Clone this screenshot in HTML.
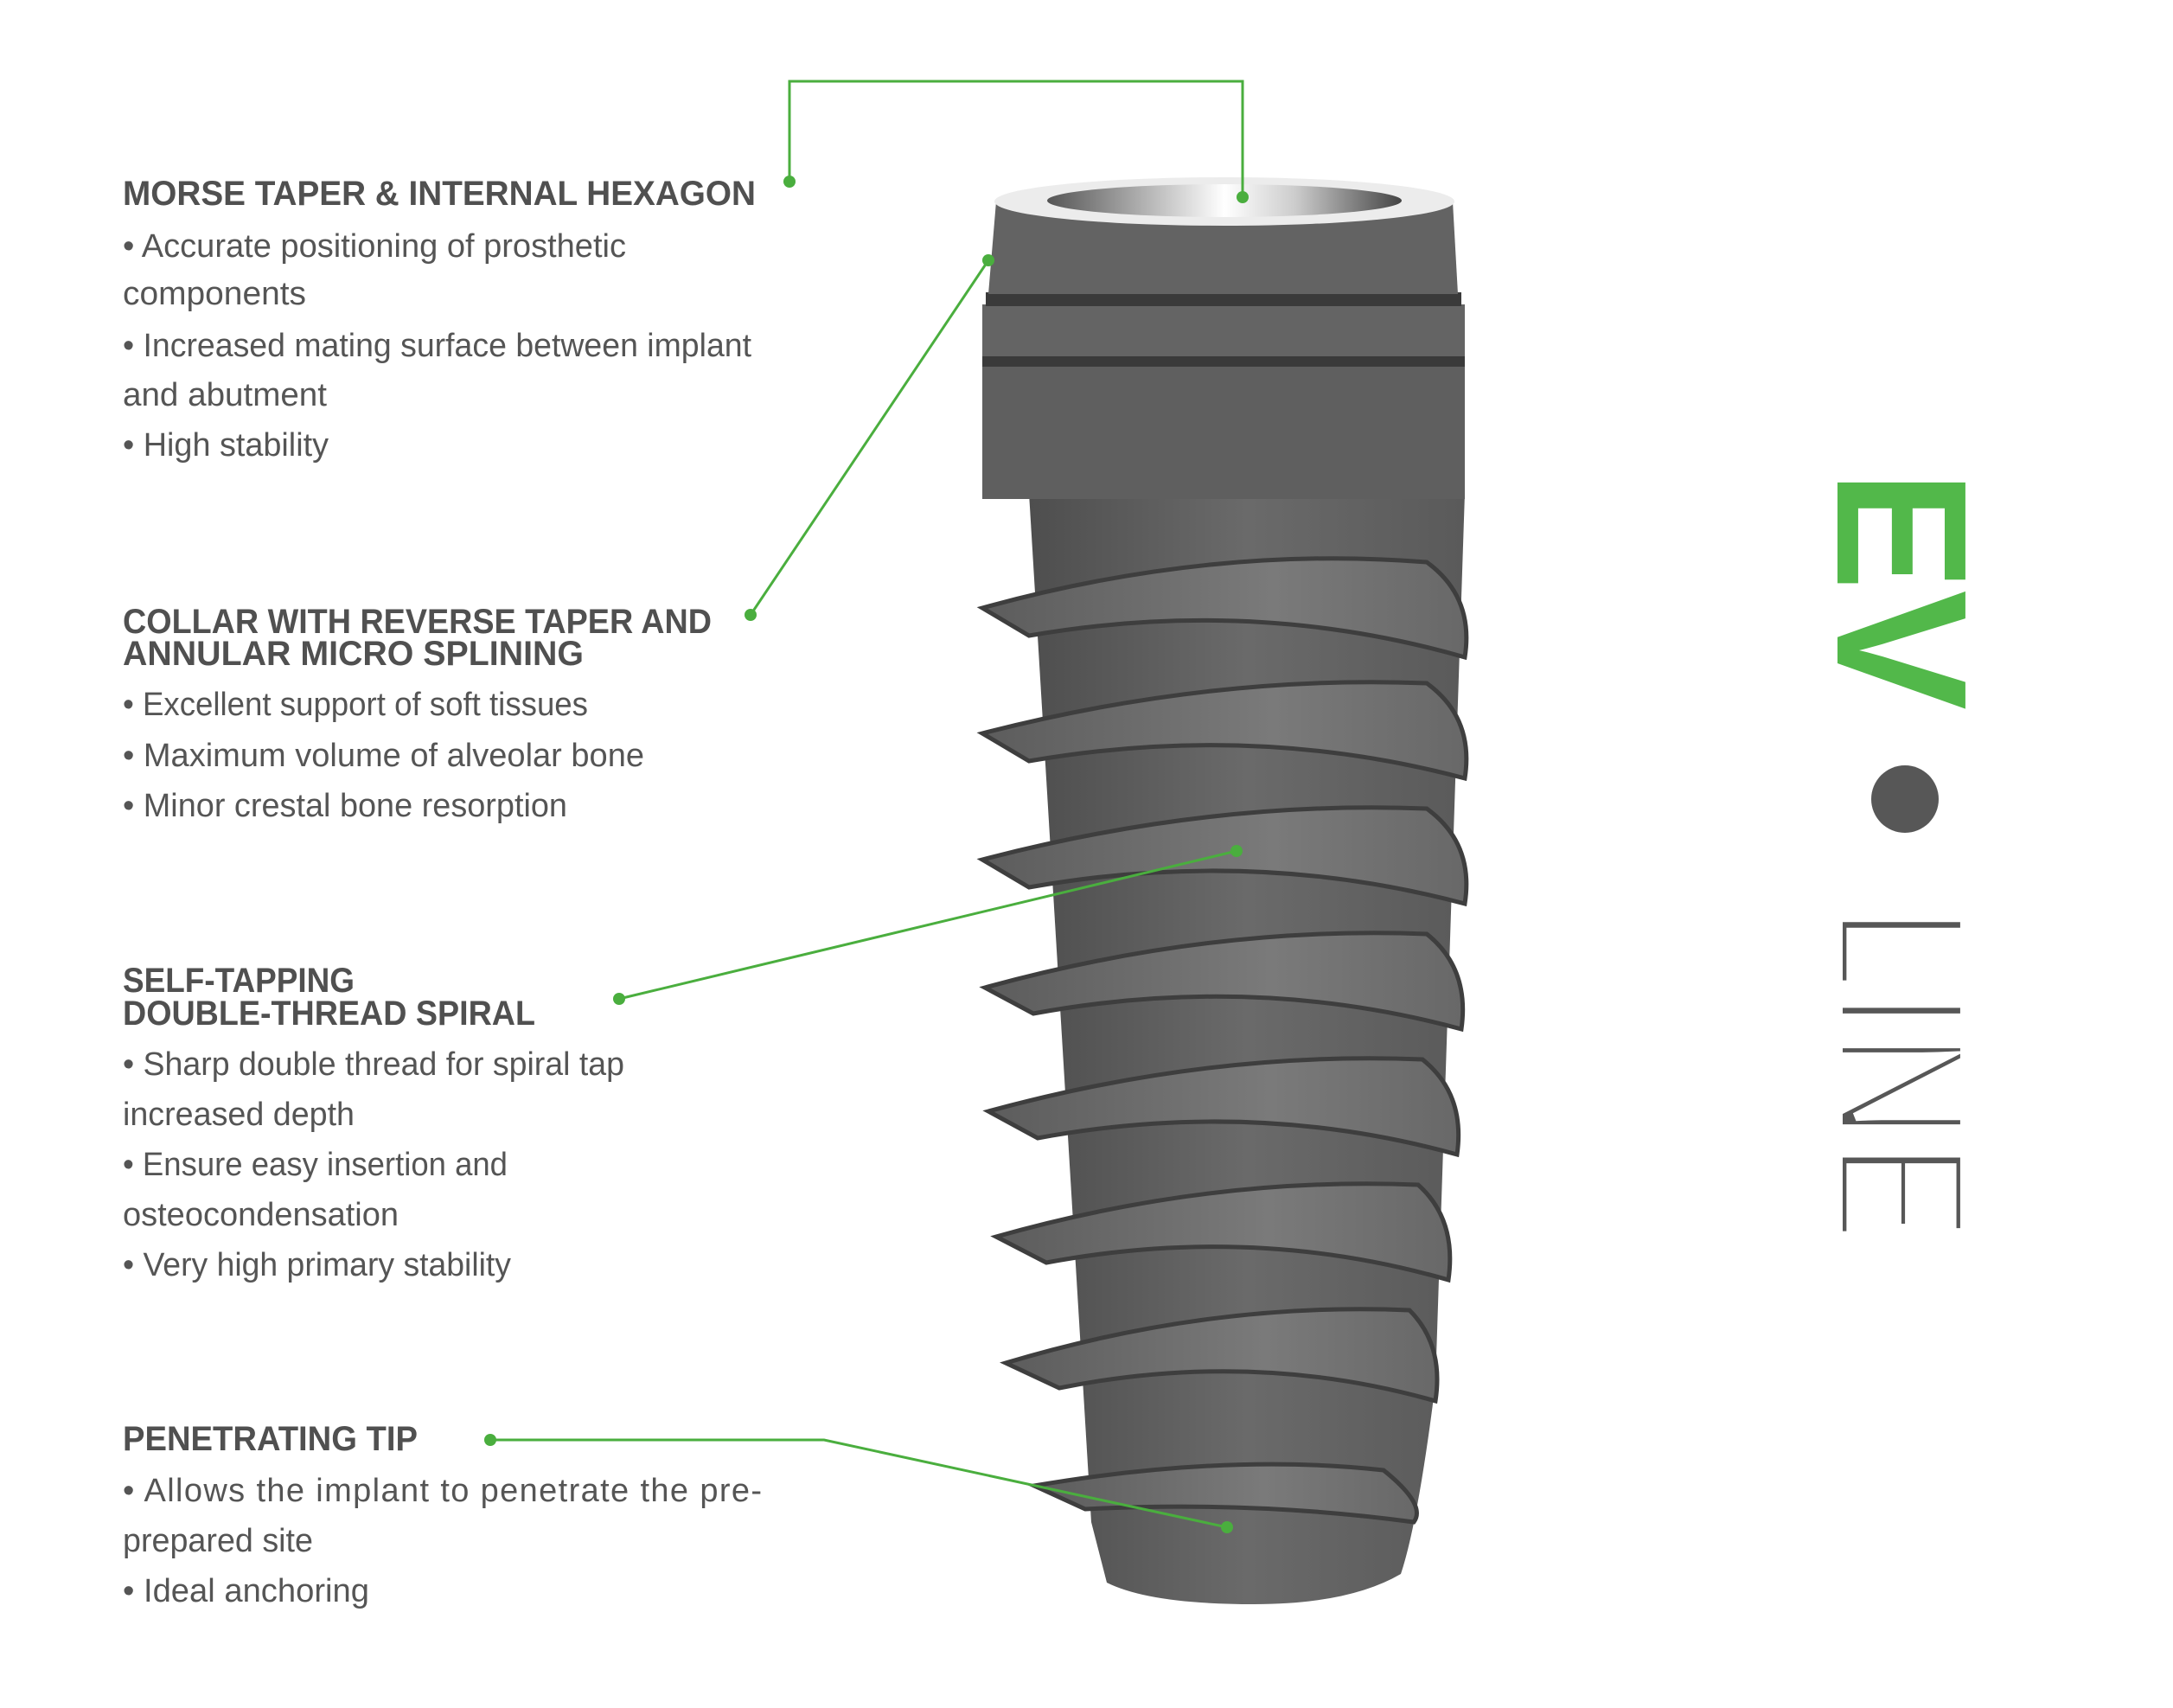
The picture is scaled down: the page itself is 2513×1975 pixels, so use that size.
<!DOCTYPE html>
<html><head><meta charset="utf-8"><style>html,body{margin:0;padding:0;background:#fff}svg{display:block}</style></head>
<body>
<svg width="2513" height="1975" viewBox="0 0 2513 1975" xmlns="http://www.w3.org/2000/svg">
<defs>
<linearGradient id="bore" x1="0" x2="1" y1="0" y2="0">
<stop offset="0" stop-color="#555"/><stop offset="0.3" stop-color="#bbb"/><stop offset="0.5" stop-color="#fff"/><stop offset="0.7" stop-color="#ccc"/><stop offset="1" stop-color="#444"/></linearGradient>
<linearGradient id="body" x1="0" x2="1" y1="0" y2="0">
<stop offset="0" stop-color="#4e4e4e"/><stop offset="0.5" stop-color="#6a6a6a"/><stop offset="1" stop-color="#5a5a5a"/></linearGradient>
<linearGradient id="thr" x1="0" x2="1" y1="0" y2="0">
<stop offset="0" stop-color="#5c5c5c"/><stop offset="0.6" stop-color="#7a7a7a"/><stop offset="1" stop-color="#686868"/></linearGradient>
</defs>

<!-- Implant body -->
<path d="M1190,570 L1694,570 L1660,1600 Q1640,1760 1620,1820 Q1560,1855 1450,1855 Q1330,1855 1280,1830 L1262,1760 Z" fill="url(#body)"/>
<!-- threads -->
<g fill="url(#thr)" stroke="#3e3e3e" stroke-width="5">
<path d="M1136,703 Q1400,630 1650,650 Q1705,690 1694,760 Q1450,690 1190,735 Z"/>
<path d="M1136,848 Q1400,780 1650,790 Q1705,830 1694,900 Q1450,835 1190,880 Z"/>
<path d="M1136,994 Q1400,925 1650,935 Q1705,975 1694,1045 Q1450,980 1190,1026 Z"/>
<path d="M1139,1142 Q1400,1070 1650,1080 Q1700,1120 1690,1190 Q1450,1125 1195,1172 Z"/>
<path d="M1143,1285 Q1400,1215 1645,1225 Q1695,1265 1685,1335 Q1450,1270 1200,1316 Z"/>
<path d="M1152,1430 Q1400,1360 1640,1370 Q1685,1410 1675,1480 Q1450,1415 1210,1460 Z"/>
<path d="M1163,1576 Q1400,1505 1630,1515 Q1670,1555 1660,1620 Q1450,1560 1225,1605 Z"/>
<path d="M1196,1718 Q1420,1680 1600,1700 Q1650,1740 1635,1760 Q1450,1735 1255,1745 Z"/>
</g>
<!-- collar -->
<rect x="1136" y="417" width="558" height="160" fill="#5f5f5f"/>
<rect x="1136" y="410" width="558" height="14" fill="#3a3a3a"/>
<rect x="1136" y="352" width="558" height="60" fill="#646464"/>
<rect x="1140" y="338" width="550" height="16" fill="#3a3a3a"/>
<path d="M1152,233 L1680,233 L1686,340 L1143,340 Z" fill="#636363"/>
<ellipse cx="1416" cy="233" rx="266" ry="28" fill="#ececec"/>
<ellipse cx="1416" cy="232" rx="205" ry="19" fill="url(#bore)"/>

<!-- connectors -->
<g stroke="#4aae3e" stroke-width="3" fill="none">
<polyline points="913,210 913,94 1437,94 1437,228"/>
<line x1="868" y1="711" x2="1143" y2="301"/>
<line x1="716" y1="1155" x2="1430" y2="984"/>
<polyline points="567,1665 953,1665 1419,1766"/>
</g>
<g fill="#4aae3e">
<circle cx="913" cy="210" r="7"/><circle cx="1437" cy="228" r="7"/>
<circle cx="868" cy="711" r="7"/><circle cx="1143" cy="301" r="7"/>
<circle cx="716" cy="1155" r="7"/><circle cx="1430" cy="984" r="7"/>
<circle cx="567" cy="1665" r="7"/><circle cx="1419" cy="1766" r="7"/>
</g>

<!-- text -->
<g font-family="Liberation Sans, sans-serif" fill="#505050">
<g font-weight="bold" font-size="40" lengthAdjust="spacingAndGlyphs">
<text x="142" y="237" textLength="732" lengthAdjust="spacingAndGlyphs">MORSE TAPER &amp; INTERNAL HEXAGON</text>
<text x="142" y="732" textLength="681" lengthAdjust="spacingAndGlyphs">COLLAR WITH REVERSE TAPER AND</text>
<text x="142" y="769" textLength="533" lengthAdjust="spacingAndGlyphs">ANNULAR MICRO SPLINING</text>
<text x="142" y="1147" textLength="268" lengthAdjust="spacingAndGlyphs">SELF-TAPPING</text>
<text x="142" y="1185" textLength="477" lengthAdjust="spacingAndGlyphs">DOUBLE-THREAD SPIRAL</text>
<text x="142" y="1677" textLength="341" lengthAdjust="spacingAndGlyphs">PENETRATING TIP</text>
</g>
<g font-size="38" fill="#555">
<text x="142" y="297" textLength="582" lengthAdjust="spacingAndGlyphs">• Accurate positioning of prosthetic</text>
<text x="142" y="352" textLength="212" lengthAdjust="spacingAndGlyphs">components</text>
<text x="142" y="412" textLength="727" lengthAdjust="spacingAndGlyphs">• Increased mating surface between implant</text>
<text x="142" y="469" textLength="236" lengthAdjust="spacingAndGlyphs">and abutment</text>
<text x="142" y="527" textLength="238" lengthAdjust="spacingAndGlyphs">• High stability</text>
<text x="142" y="827" textLength="538" lengthAdjust="spacingAndGlyphs">• Excellent support of soft tissues</text>
<text x="142" y="886" textLength="603" lengthAdjust="spacingAndGlyphs">• Maximum volume of alveolar bone</text>
<text x="142" y="944" textLength="514" lengthAdjust="spacingAndGlyphs">• Minor crestal bone resorption</text>
<text x="142" y="1243" textLength="580" lengthAdjust="spacingAndGlyphs">• Sharp double thread for spiral tap</text>
<text x="142" y="1301" textLength="268" lengthAdjust="spacingAndGlyphs">increased depth</text>
<text x="142" y="1359" textLength="445" lengthAdjust="spacingAndGlyphs">• Ensure easy insertion and</text>
<text x="142" y="1417" textLength="319" lengthAdjust="spacingAndGlyphs">osteocondensation</text>
<text x="142" y="1475" textLength="449" lengthAdjust="spacingAndGlyphs">• Very high primary stability</text>
<text x="142" y="1736" textLength="739" lengthAdjust="spacing">• Allows the implant to penetrate the pre-</text>
<text x="142" y="1794" textLength="220" lengthAdjust="spacingAndGlyphs">prepared site</text>
<text x="142" y="1852" textLength="285" lengthAdjust="spacingAndGlyphs">• Ideal anchoring</text>
</g>
</g>

<!-- EV LINE logo -->
<text transform="translate(2125,544) rotate(90)" x="0" y="0" font-family="Liberation Sans, sans-serif" font-weight="bold" font-size="215" fill="#52b84a" textLength="277" lengthAdjust="spacingAndGlyphs">EV</text>
<circle cx="2203" cy="924" r="39" fill="#575757"/>
<text transform="translate(2125,1047) rotate(90)" x="0" y="0" font-family="Liberation Sans, sans-serif" font-size="215" fill="#575757" stroke="#fff" stroke-width="12" textLength="389" lengthAdjust="spacingAndGlyphs">LINE</text>
</svg>
</body></html>
